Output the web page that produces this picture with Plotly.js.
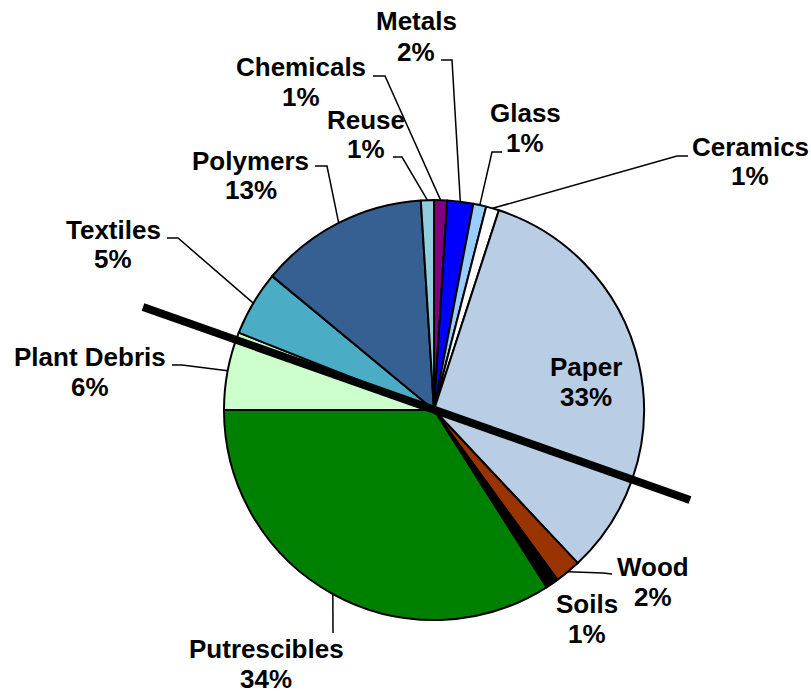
<!DOCTYPE html>
<html>
<head>
<meta charset="utf-8">
<script src="https://cdn.plot.ly/plotly-3.0.1.min.js"></script>
<style>html,body{margin:0;padding:0;background:#fff}#chart{width:811px;height:691px}</style>
</head>
<body>
<div id="chart"></div>
<script>
// ---- data ----
var categories = ["Chemicals","Metals","Glass","Ceramics","Paper","Wood","Soils","Putrescibles","Plant Debris","Textiles","Polymers","Reuse"];
var shares = [1, 2, 1, 1, 33, 2, 1, 34, 6, 5, 13, 1];
var sliceColors = ["#800080","#0000FF","#99CCFF","#FFFFFF","#B9CDE5","#993300","#000000","#008000","#CCFFCC","#4BACC6","#376092","#92CDDC"];

// ---- layout config (pixels) ----
var W = 811, H = 691;
var CX = 434, CY = 410, R = 210;
// label positions: [centerX, line1Y, line2Y]
var labelPos = {
  "Chemicals":[301,67,97], "Metals":[416,21,52], "Glass":[525,113,143], "Ceramics":[750,147,176],
  "Paper":[586,367,397], "Wood":[653,567,597], "Soils":[587,604,634], "Putrescibles":[266,649,679],
  "Plant Debris":[90,357,387], "Textiles":[113,230,259], "Polymers":[251,161,190], "Reuse":[366,120,149]
};
// leader line waypoints after the slice edge point
var leaderPts = {
  "Chemicals":[[385,76],[373,76]], "Metals":[[452,60],[441,60]], "Glass":[[492,152],[502,152]],
  "Ceramics":[[677,156],[688,156]], "Wood":[[603,573],[612,574]], "Putrescibles":[[333,633]],
  "Plant Debris":[[182,365],[172,365]], "Textiles":[[178,238],[167,238]],
  "Polymers":[[327,166],[315,166]], "Reuse":[[402,157],[393,157]]
};
var cutLine = [[143,307],[690,500]];

function px(x){return x/W;}
function py(y){return 1 - y/H;}

var total = shares.reduce(function(a,b){return a+b;},0);
var annotations = [], shapes = [];
var cum = 0;
var fnt = {family:"Liberation Sans, Arial, sans-serif", size:26, color:"#000", weight:"bold"};
categories.forEach(function(c, i){
  var v = shares[i];
  var mid = (cum + v/2)/total*2*Math.PI;
  cum += v;
  var ex = CX + R*Math.sin(mid), ey = CY - R*Math.cos(mid);
  var p = labelPos[c];
  annotations.push({x:px(p[0]), y:py(p[1]), xref:"paper", yref:"paper", text:c, showarrow:false, xanchor:"center", yanchor:"middle", font:fnt});
  annotations.push({x:px(p[0]), y:py(p[2]), xref:"paper", yref:"paper", text:Math.round(v/total*100)+"%", showarrow:false, xanchor:"center", yanchor:"middle", font:fnt});
  if (leaderPts[c]) {
    var d = "M " + px(ex) + " " + py(ey);
    leaderPts[c].forEach(function(q){ d += " L " + px(q[0]) + " " + py(q[1]); });
    shapes.push({type:"path", xref:"paper", yref:"paper", path:d, line:{color:"#000", width:1.5}});
  }
});
shapes.push({type:"line", xref:"paper", yref:"paper", x0:px(cutLine[0][0]), y0:py(cutLine[0][1]), x1:px(cutLine[1][0]), y1:py(cutLine[1][1]), line:{color:"#000", width:8}});

var trace = {
  type:"pie", labels:categories, values:shares, sort:false, direction:"clockwise", rotation:0,
  marker:{colors:sliceColors, line:{color:"#000", width:2}},
  textinfo:"none", hoverinfo:"label+percent",
  domain:{x:[px(CX-R), px(CX+R)], y:[py(CY+R), py(CY-R)]}
};
var layout = {
  width:W, height:H, margin:{l:0,r:0,t:0,b:0}, showlegend:false,
  paper_bgcolor:"#fff", plot_bgcolor:"#fff",
  annotations:annotations, shapes:shapes
};
Plotly.newPlot("chart", [trace], layout, {displayModeBar:false, staticPlot:true});
</script>
</body>
</html>
